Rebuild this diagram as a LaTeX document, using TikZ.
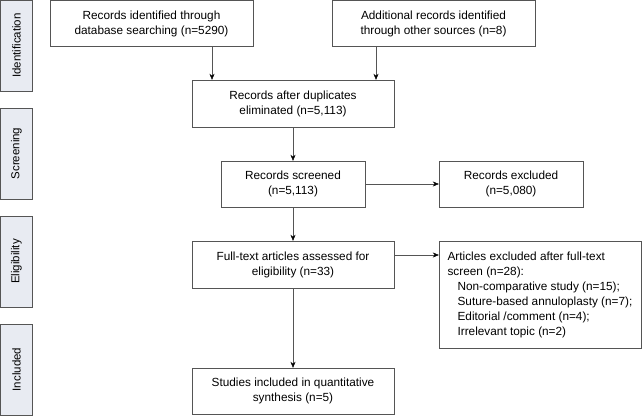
\documentclass[tikz,border=0pt]{standalone}
\usepackage{fontspec}
\setmainfont{Liberation Sans}
\usetikzlibrary{arrows.meta,positioning}
\definecolor{stagefill}{HTML}{E8EBF2}
\definecolor{linegray}{HTML}{555555}
\begin{document}
\begin{tikzpicture}[x=1pt,y=-1pt,
    stage/.style={draw=linegray, fill=stagefill, rotate=90, minimum width=91pt, minimum height=32pt, inner sep=0pt, font=\fontsize{11.5}{13}\selectfont},
    box/.style={draw=linegray, minimum height=46pt, inner sep=0pt, align=center, font=\fontsize{11.8}{15}\selectfont},
    arr/.style={draw=linegray, -{Stealth[length=6pt,width=5pt,black]}}]
    \useasboundingbox (0,0) rectangle (642,415);

    % stages on the left
    \node[stage] (sid) at (16.5,45.5) {Identification};
    \node[stage] (sscr) at (16.5,153.5) {Screening};
    \node[stage] (selig) at (16.5,261.5) {Eligibility};
    \node[stage] (sinc) at (16.5,369.5) {Included};

    % flow boxes
    \node[box, minimum width=203pt] (ident) at (151.5,23.5) {Records identified through\\database searching (n=5290)};
    \node[box, minimum width=203pt] (addl) at (433.5,23.5) {Additional records identified\\through other sources (n=8)};
    \node[box, minimum width=202pt, minimum height=47pt] (dup) at (293,103.5) {Records after duplicates\\eliminated (n=5,113)};
    \node[box, minimum width=144pt] (scr) at (293,184) {Records screened\\(n=5,113)};
    \node[box, minimum width=144pt] (excl) at (511,184) {Records excluded\\(n=5,080)};
    \node[box, minimum width=202pt, minimum height=47pt] (full) at (293,264.5) {Full-text articles assessed for\\eligibility (n=33)};
    \node[box, minimum width=202pt, minimum height=107pt, align=left] (artexcl) at (540,294.5) {Articles excluded after full-text\\screen (n=28):\\
        \hspace*{10pt}Non-comparative study (n=15);\\
        \hspace*{10pt}Suture-based annuloplasty (n=7);\\
        \hspace*{10pt}Editorial /comment (n=4);\\
        \hspace*{10pt}Irrelevant topic (n=2)};
    \node[box, minimum width=202pt] (incl) at (293,391) {Studies included in quantitative\\synthesis (n=5)};

    % arrows
    \coordinate (idout) at ([xshift=60.5pt]ident.south);
    \coordinate (adout) at ([xshift=-57.5pt]addl.south);
    \coordinate (ftout) at ([yshift=9.5pt]full.east);
    \draw[arr] (idout) -- (idout |- dup.north);
    \draw[arr] (adout) -- (adout |- dup.north);
    \draw[arr] (dup) -- (scr);
    \draw[arr] (scr) -- (excl);
    \draw[arr] (scr) -- (full);
    \draw[arr] (ftout) -- (ftout -| artexcl.west);
    \draw[arr] (full) -- (incl);

\end{tikzpicture}
\end{document}
